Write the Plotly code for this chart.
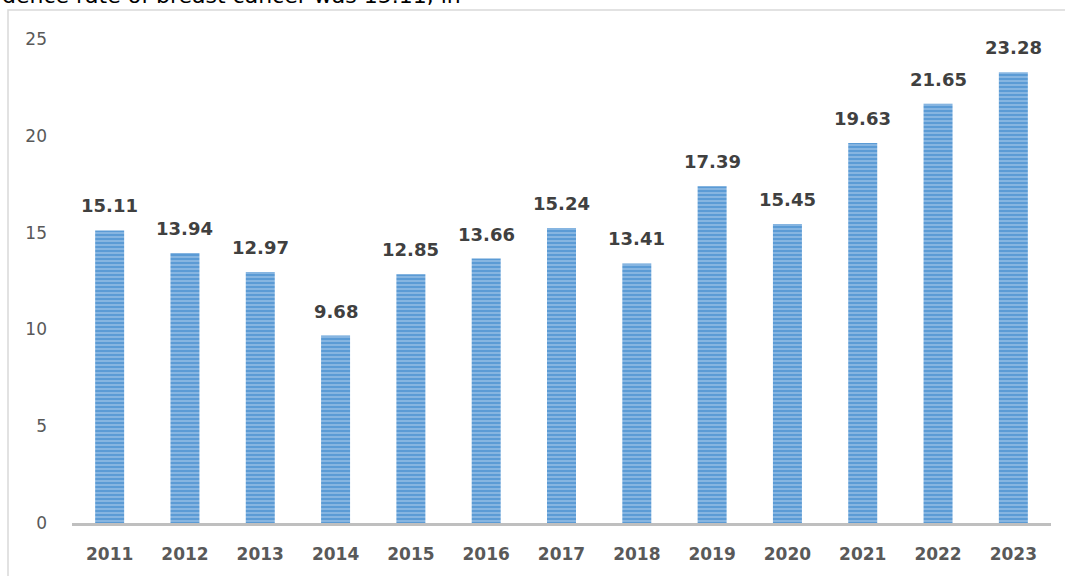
import plotly.graph_objects as go

years = ["2011", "2012", "2013", "2014", "2015", "2016", "2017", "2018", "2019", "2020", "2021", "2022", "2023"]
rates = [15.11, 13.94, 12.97, 9.68, 12.85, 13.66, 15.24, 13.41, 17.39, 15.45, 19.63, 21.65, 23.28]
y_ticks = [0, 5, 10, 15, 20, 25]

W, H = 1065, 576
L, R, T, B = 72, 14, 39, 53
pw, ph = W - L - R, H - T - B
FONT = "DejaVu Sans, Verdana, sans-serif"

fig = go.Figure()
fig.add_trace(go.Bar(
    x=years, y=rates,
    width=0.385,
    marker=dict(
        color="#5B9BD5",
        line=dict(width=0),
        pattern=dict(shape="-", size=4, solidity=0.35, fgcolor="#D6E6F6", bgcolor="#5B9BD5", fillmode="overlay"),
    ),
    cliponaxis=False,
))

# value labels above bars (category positions by index)
for i, v in enumerate(rates):
    fig.add_annotation(x=i, y=v, text=f"{v:.2f}", showarrow=False,
                       xanchor="center", yanchor="bottom", yshift=12,
                       font=dict(family=FONT, size=18, color="#404040", weight="bold"))

fig.update_layout(
    width=W, height=H,
    margin=dict(l=L, r=R, t=T, b=B),
    paper_bgcolor="white", plot_bgcolor="white",
    showlegend=False,
    xaxis=dict(
        type="category", categoryorder="array", categoryarray=years,
        range=[-0.5, len(years) - 0.5],
        automargin=False,
        showgrid=False, showline=True, linecolor="#BFBFBF", linewidth=3,
        ticks="", tickfont=dict(family=FONT, size=17, color="#595959", weight="bold"),
        ticklabelstandoff=14,
    ),
    yaxis=dict(
        automargin=False,
        range=[0, 25], tickvals=y_ticks, showgrid=False, showline=False, zeroline=False,
        ticks="", tickfont=dict(family=FONT, size=17, color="#595959"),
        ticklabelstandoff=24,
    ),
    font=dict(family=FONT),
)

# chart border (right and bottom edges lie outside the view)
fig.add_shape(type="rect", xref="paper", yref="paper",
              x0=(8 - L) / pw, x1=(W + 10 - L) / pw,
              y0=-(B + 10) / ph, y1=1 + (T - 10) / ph,
              line=dict(color="#D9D9D9", width=1.5), fillcolor="rgba(0,0,0,0)", layer="below")

# cropped document text above the chart
fig.add_annotation(text="dence rate of breast cancer was 15.11, in",
                   xref="paper", yref="paper",
                   x=(0 - L) / pw, y=1 + (T - 10) / ph,
                   xanchor="left", yanchor="bottom", showarrow=False,
                   font=dict(family=FONT, size=22, color="#000000"))

fig.write_html("out.html")
